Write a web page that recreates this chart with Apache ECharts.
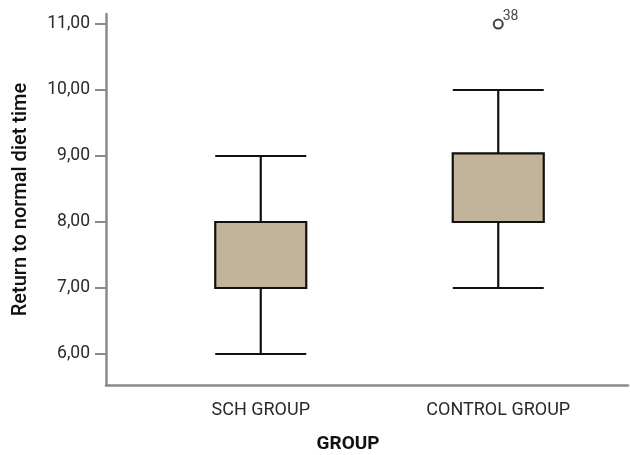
<!DOCTYPE html>
<html>
<head>
<meta charset="utf-8">
<script src="https://cdn.jsdelivr.net/npm/echarts@6/dist/echarts.min.js"></script>
<style>
  html, body { margin: 0; padding: 0; background: #fff; }
  #chart { width: 630px; height: 455px; }
</style>
</head>
<body>
<div id="chart"></div>
<script>
// groups on the x axis
var groups = ['SCH GROUP', 'CONTROL GROUP']
// [min, Q1, median, Q3, max] per group
var boxStats = [
  [6.00, 7.00, 7.00, 8.00, 9.00],
  [7.00, 8.00, 8.00, 9.04, 10.00]
]
// outliers: [group, value, case label]
var outliers = [
  ['CONTROL GROUP', 11.00, '38']
]
var yTicks = [6, 7, 8, 9, 10, 11]

var font = 'Roboto, sans-serif'
var yMin = 5.53, yMax = 11.152

var chart = echarts.init(document.getElementById('chart'))
chart.setOption({
  animation: false,
  grid: [
    // frame grid: carries the visible axes
    { left: 106, right: 2, top: 14, bottom: 70, outerBoundsMode: 'none', containLabel: false },
    // plotting grid: positions the two boxes
    { left: 142, right: 13, top: 14, bottom: 70, outerBoundsMode: 'none', containLabel: false }
  ],
  xAxis: [
    {
      gridIndex: 0, type: 'value', min: 0, max: 1,
      axisLine: { show: true, lineStyle: { color: '#8a8a8a', width: 2.5 } },
      axisTick: { show: false }, axisLabel: { show: false }, splitLine: { show: false },
      name: 'GROUP', nameLocation: 'middle', nameGap: 50,
      nameTextStyle: { fontFamily: font, fontSize: 19, fontWeight: 'bold', color: '#111', padding: [0, 38, 0, 0] }
    },
    {
      gridIndex: 1, type: 'category', data: groups,
      axisLine: { show: false }, axisTick: { show: false },
      axisLabel: { fontFamily: font, fontSize: 18, color: '#2a2a2a', margin: 16 }
    }
  ],
  yAxis: [
    {
      gridIndex: 0, type: 'value', min: yMin, max: yMax,
      axisLine: { show: true, lineStyle: { color: '#8a8a8a', width: 2.5 } },
      axisTick: { show: true, length: 11, customValues: yTicks, lineStyle: { color: '#8a8a8a', width: 2 } },
      axisLabel: {
        customValues: yTicks, fontFamily: font, fontSize: 17.5, color: '#2a2a2a', margin: 16,
        formatter: function (v) { return v.toFixed(2).replace('.', ',') }
      },
      splitLine: { show: false },
      name: 'Return to normal diet time', nameLocation: 'middle', nameGap: 75,
      nameTextStyle: { fontFamily: font, fontSize: 20, fontWeight: 500, color: '#111' }
    },
    {
      gridIndex: 1, type: 'value', min: yMin, max: yMax, show: false
    }
  ],
  series: [
    {
      type: 'boxplot',
      xAxisIndex: 1, yAxisIndex: 1,
      boxWidth: [91, 91],
      data: boxStats,
      itemStyle: { color: '#c2b49a', borderColor: '#111', borderWidth: 2.2 }
    },
    {
      type: 'scatter',
      xAxisIndex: 1, yAxisIndex: 1,
      symbol: 'emptyCircle', symbolSize: 9,
      itemStyle: { color: '#111', borderColor: '#111', borderWidth: 1.5 },
      label: {
        show: true, position: [10, -9],
        formatter: function (p) { return p.data[2] },
        fontFamily: font, fontSize: 14, color: '#111'
      },
      data: outliers
    }
  ]
})
</script>
</body>
</html>
